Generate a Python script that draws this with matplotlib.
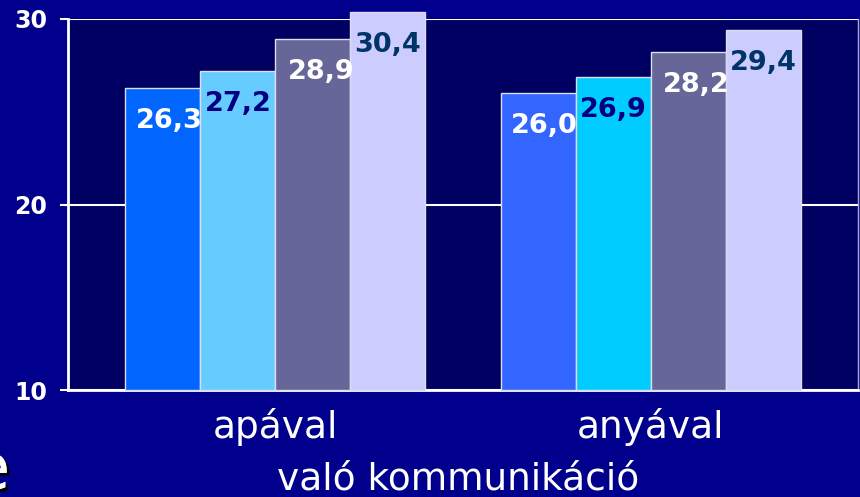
import numpy as np
import matplotlib
matplotlib.use("Agg")
from matplotlib import pyplot as plt
import matplotlib.patheffects as pe

# Data
groups = ['apával', 'anyával']
s1 = [26.3, 26.0]
s2 = [27.2, 26.9]
s3 = [28.9, 28.2]
s4 = [30.4, 29.4]
series = [s1, s2, s3, s4]

# colours: one per bar (the first two series change between groups)
bar_colors = [['#0066FF', '#3366FF'],
              ['#66CCFF', '#00CCFF'],
              ['#666699', '#666699'],
              ['#CCCCFF', '#CCCCFF']]
lbl_colors = ['white', '#000080', 'white', '#003366']
lbl_dx = [6, 0, 8, 0]  # pixels

bg = '#00008C'
plot_bg = '#000062'

plt.rcParams['font.family'] = ['DejaVu Sans']

fig = plt.figure(figsize=(8.6, 4.97), dpi=100, facecolor=bg)
ax = fig.add_axes([68/860, 1-390/497, 790/860, 371/497])
ax.set_facecolor(plot_bg)

x = np.arange(len(groups))
w = 0.2
for i, vals in enumerate(series):
    xs = x + (i - 1.5) * w
    bars = ax.bar(xs, np.array(vals) - 10, width=w, bottom=10,
                  color=bar_colors[i], edgecolor='#DDDDEE', linewidth=1,
                  zorder=3, clip_on=False)
    for xx, v in zip(xs, vals):
        lbl = f"{v:.1f}".replace('.', ',')
        ax.annotate(lbl, (xx, v), xytext=(lbl_dx[i], -33),
                    textcoords='offset pixels', ha='center', va='center',
                    fontsize=19.5, fontweight='bold', color=lbl_colors[i],
                    zorder=5, annotation_clip=False)

ax.set_xlim(-0.553, 1.553)
ax.set_ylim(10, 30)
ax.set_yticks([10, 20, 30])
ax.tick_params(axis='y', colors='white', length=6, width=1.5, pad=9,
               labelsize=17)
for t in ax.get_yticklabels():
    t.set_fontweight('bold')
ax.set_xticks(x, groups)
ax.tick_params(axis='x', length=0, colors='white', labelsize=27, pad=13)

ax.grid(axis='y', color='white', linewidth=1.5, zorder=1)
ax.set_axisbelow(True)

for side in ['left', 'bottom']:
    ax.spines[side].set_color('white')
    ax.spines[side].set_linewidth(2)
ax.spines['top'].set_visible(False)
ax.spines['right'].set_color('#AAAACC')
ax.spines['right'].set_linewidth(1)

ax.set_xlabel('való kommunikáció', color='white', fontsize=27, labelpad=0)
ax.xaxis.set_label_coords(0.494, -0.192)

# cut-off text fragment at the slide's lower-left edge
fig.text(10/860, 8/497, 'e', ha='right', va='baseline', fontsize=46,
         color='white',
         path_effects=[pe.withSimplePatchShadow(offset=(2, -2),
                                                shadow_rgbFace='black',
                                                alpha=1), pe.Normal()])

fig.savefig('out.png', dpi=100, facecolor=bg)
